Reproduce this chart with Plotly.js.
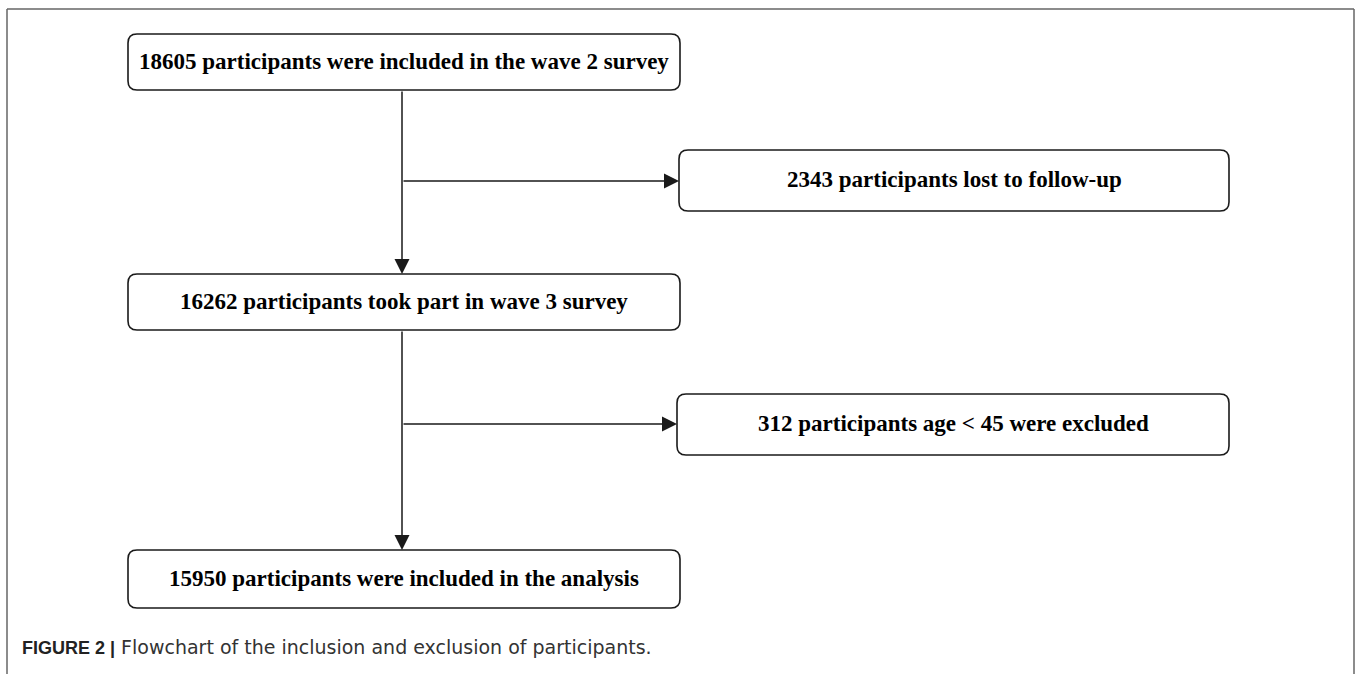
<!DOCTYPE html>
<html><head><meta charset="utf-8">
<script src="https://cdn.plot.ly/plotly-3.0.1.min.js"></script>
<style>html,body{margin:0;padding:0;background:#fff}#c{width:1357px;height:674px}</style>
</head><body><div id="c"></div>
<script>
// Flowchart content
const stepLabels = [
  "18605 participants were included in the wave 2 survey",
  "16262 participants took part in wave 3 survey",
  "15950 participants were included in the analysis"
];
const stepCounts = [18605, 16262, 15950];
const exclusionLabels = [
  "2343 participants lost to follow-up",
  "312 participants age < 45 were excluded"
];
const exclusionCounts = [2343, 312];
const captionBold = "FIGURE 2 |";
const captionText = " Flowchart of the inclusion and exclusion of participants.";

// layout geometry (pixels in a 1357x674 coordinate space)
const mainBoxes = [[128, 680, 34, 90], [128, 680, 274, 330], [128, 680, 550, 608]];
const exclBoxes = [[679, 1229, 150, 211], [677, 1229, 394, 455]];
const trunkX = 402;
const branchY = [181, 424];

function rr(b, r) {
  const [x0, x1, y0, y1] = b;
  return `M${x0+r},${y0} L${x1-r},${y0} Q${x1},${y0} ${x1},${y0+r} L${x1},${y1-r} Q${x1},${y1} ${x1-r},${y1} L${x0+r},${y1} Q${x0},${y1} ${x0},${y1-r} L${x0},${y0+r} Q${x0},${y0} ${x0+r},${y0} Z`;
}
const lineCol = '#1a1a1a';
const shapes = [];
const annotations = [];
mainBoxes.forEach(b => shapes.push({type:'path', path: rr(b, 9), xref:'x', yref:'y', line:{color:lineCol, width:1.6}, fillcolor:'rgba(0,0,0,0)'}));
exclBoxes.forEach(b => shapes.push({type:'path', path: rr(b, 9), xref:'x', yref:'y', line:{color:lineCol, width:1.6}, fillcolor:'rgba(0,0,0,0)'}));
// frame
const frameCol = '#666';
shapes.push({type:'line', xref:'x', yref:'y', x0:7, x1:7, y0:9, y1:680, line:{color:frameCol, width:1.5}});
shapes.push({type:'line', xref:'x', yref:'y', x0:7, x1:1354, y0:9, y1:9, line:{color:frameCol, width:1.5}});
shapes.push({type:'line', xref:'x', yref:'y', x0:1354, x1:1354, y0:9, y1:680, line:{color:frameCol, width:1.5}});

const textFont = {family:'"Liberation Serif", "Times New Roman", serif', size:23, color:'#000'};
stepLabels.forEach((t, i) => {
  const b = mainBoxes[i];
  annotations.push({x:(b[0]+b[1])/2, y:(b[2]+b[3])/2 - 1, xref:'x', yref:'y', text:'<b>'+t.replace('<','&lt;')+'</b>', showarrow:false, font:textFont, xanchor:'center', yanchor:'middle'});
});
exclusionLabels.forEach((t, i) => {
  const b = exclBoxes[i];
  annotations.push({x:(b[0]+b[1])/2, y:(b[2]+b[3])/2 - 1, xref:'x', yref:'y', text:'<b>'+t.replace('<','&lt;')+'</b>', showarrow:false, font:textFont, xanchor:'center', yanchor:'middle'});
});
function arrow(x0, y0, x1, y1) {
  annotations.push({x:x1, y:y1, ax:x0, ay:y0, xref:'x', yref:'y', axref:'x', ayref:'y', text:'', showarrow:true, arrowhead:2, arrowsize:2, arrowwidth:1.5, arrowcolor:lineCol, standoff:0, startstandoff:0});
}
arrow(trunkX, mainBoxes[0][3], trunkX, mainBoxes[1][2]);
arrow(trunkX, mainBoxes[1][3], trunkX, mainBoxes[2][2]);
arrow(trunkX, branchY[0], exclBoxes[0][0], branchY[0]);
arrow(trunkX, branchY[1], exclBoxes[1][0], branchY[1]);

annotations.push({x:20, y:647, xref:'x', yref:'y', xanchor:'left', yanchor:'middle', showarrow:false,
  text:'<span style="font-family:\'Liberation Sans\', Arial, sans-serif;font-size:18px;font-weight:bold;color:#222">'+captionBold+'</span><span style="font-family:\'DejaVu Sans\', sans-serif;font-size:19px;color:#333">'+captionText+'</span>',
  font:{family:'"DejaVu Sans", sans-serif', size:19, color:'#333'}});

const layout = {
  width:1357, height:674, margin:{l:0, r:0, t:0, b:0},
  paper_bgcolor:'#fff', plot_bgcolor:'#fff', showlegend:false,
  xaxis:{range:[0,1357], visible:false, fixedrange:true},
  yaxis:{range:[674,0], visible:false, fixedrange:true},
  shapes, annotations
};
Plotly.newPlot('c', [{x:[], y:[], type:'scatter', mode:'markers', hoverinfo:'skip'}], layout, {staticPlot:true, displayModeBar:false});
</script></body></html>
